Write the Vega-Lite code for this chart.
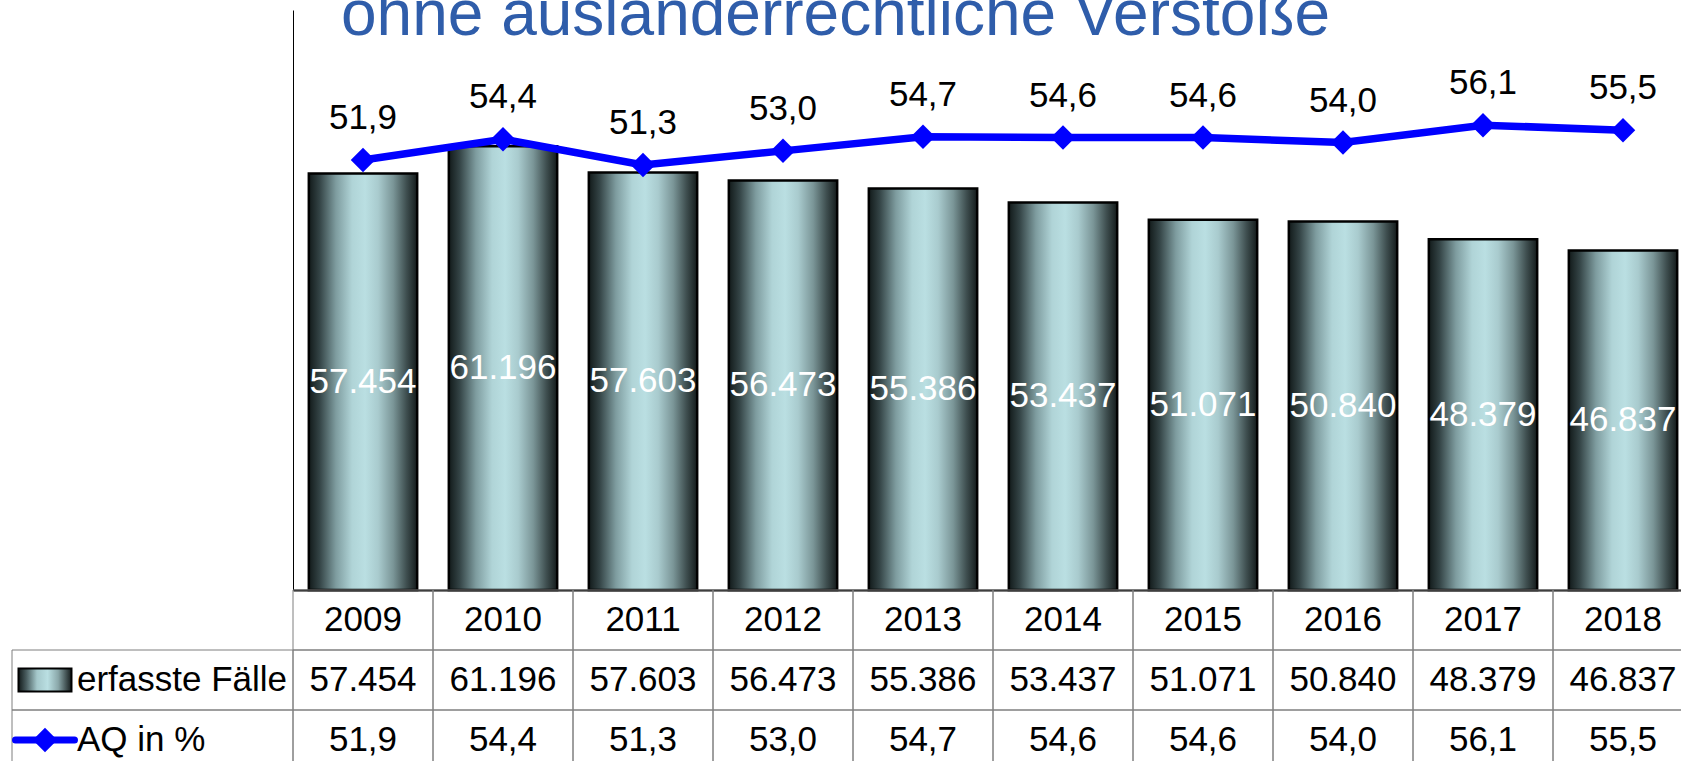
{
  "$schema": "https://vega.github.io/schema/vega-lite/v6.json",
  "padding": {"left": 1, "top": -16, "right": -12, "bottom": -9},
  "config": {
    "view": {"stroke": null},
    "font": "Liberation Sans",
    "locale": {"number": {"decimal": ",", "thousands": ".", "grouping": [3], "currency": ["", " €"]}}
  },
  "datasets": {
    "jahre": [
      {"year": "2009", "cases": 57454, "aq": 51.9},
      {"year": "2010", "cases": 61196, "aq": 54.4},
      {"year": "2011", "cases": 57603, "aq": 51.3},
      {"year": "2012", "cases": 56473, "aq": 53.0},
      {"year": "2013", "cases": 55386, "aq": 54.7},
      {"year": "2014", "cases": 53437, "aq": 54.6},
      {"year": "2015", "cases": 51071, "aq": 54.6},
      {"year": "2016", "cases": 50840, "aq": 54.0},
      {"year": "2017", "cases": 48379, "aq": 56.1},
      {"year": "2018", "cases": 46837, "aq": 55.5}
    ],
    "zeilen": [
      {"row": "erfasste Fälle"},
      {"row": "AQ in %"}
    ]
  },
  "columns": 2,
  "spacing": 0,
  "bounds": "flush",
  "concat": [
    {
      "width": 281,
      "height": 580,
      "data": {"values": []},
      "mark": "point",
      "encoding": {}
    },
    {
      "width": 1400,
      "height": 580,
      "data": {"name": "jahre"},
      "title": {
        "text": "ohne ausländerrechtliche Verstöße",
        "font": "Liberation Sans",
        "fontSize": 64,
        "fontWeight": "normal",
        "color": "#2F5DAA",
        "anchor": "start",
        "frame": "group",
        "dx": 48,
        "dy": 67,
        "baseline": "alphabetic",
        "offset": -22
      },
      "encoding": {
        "x": {
          "field": "year", "type": "nominal", "sort": null,
          "scale": {"paddingInner": 0.226, "paddingOuter": 0.113},
          "axis": {"title": null, "labels": false, "ticks": false, "grid": false, "domainColor": "#000000", "domainWidth": 2}
        }
      },
      "layer": [
        {
          "mark": {
            "type": "bar",
            "fill": {
              "gradient": "linear", "x1": 0, "y1": 0, "x2": 1, "y2": 0,
              "stops": [
                {"offset": 0, "color": "#121a1a"},
                {"offset": 0.1, "color": "#344446"},
                {"offset": 0.25, "color": "#7e9c9f"},
                {"offset": 0.4, "color": "#b0d4d7"},
                {"offset": 0.52, "color": "#badfe2"},
                {"offset": 0.64, "color": "#a9cbce"},
                {"offset": 0.78, "color": "#7a9597"},
                {"offset": 0.9, "color": "#3f4f50"},
                {"offset": 1, "color": "#141b1b"}
              ]
            },
            "stroke": "#000000",
            "strokeWidth": 2.5
          },
          "encoding": {
            "y": {
              "field": "cases", "type": "quantitative",
              "scale": {"domain": [0, 80000], "nice": false},
              "axis": {"title": null, "labels": false, "ticks": false, "grid": false, "domainColor": "#000000", "domainWidth": 1}
            }
          }
        },
        {
          "mark": {"type": "text", "color": "#ffffff", "fontSize": 35, "baseline": "middle"},
          "encoding": {
            "y": {"field": "cases", "type": "quantitative", "scale": {"domain": [0, 160000], "nice": false}, "axis": null},
            "text": {"field": "cases", "type": "quantitative", "format": ",d"}
          }
        },
        {
          "mark": {"type": "line", "color": "#0000ff", "strokeWidth": 7.5},
          "encoding": {
            "y": {"field": "aq", "type": "quantitative", "scale": {"domain": [0, 70], "nice": false}, "axis": null}
          }
        },
        {
          "mark": {"type": "point", "shape": "diamond", "filled": true, "color": "#0000ff", "size": 600, "opacity": 1},
          "encoding": {
            "y": {"field": "aq", "type": "quantitative", "scale": {"domain": [0, 70], "nice": false}, "axis": null}
          }
        },
        {
          "mark": {"type": "text", "color": "#000000", "fontSize": 35, "baseline": "alphabetic", "dy": -31},
          "encoding": {
            "y": {"field": "aq", "type": "quantitative", "scale": {"domain": [0, 70], "nice": false}, "axis": null},
            "text": {"field": "aq", "type": "quantitative", "format": ".1f"}
          }
        }
      ],
      "resolve": {"scale": {"y": "independent"}}
    },
    {
      "width": 281,
      "height": 180,
      "data": {"name": "zeilen"},
      "encoding": {
        "y": {
          "field": "row", "type": "nominal", "sort": null,
          "scale": {"domain": ["Jahr", "erfasste Fälle", "AQ in %"], "paddingInner": 0, "paddingOuter": 0},
          "axis": null
        }
      },
      "layer": [
        {
          "mark": {"type": "rect", "fill": "transparent", "stroke": "#7f7f7f", "strokeWidth": 1}
        },
        {
          "mark": {"type": "text", "align": "left", "dx": 32, "fontSize": 35, "baseline": "middle", "color": "#000000"},
          "encoding": {
            "x": {"datum": "Symbol", "type": "nominal", "scale": {"type": "point", "domain": ["Symbol"], "align": 0.1174}, "axis": null},
            "text": {"field": "row", "type": "nominal"}
          }
        },
        {
          "transform": [{"filter": "datum.row === 'erfasste Fälle'"}],
          "mark": {
            "type": "point", "shape": "M-1,-0.434H1V0.434H-1Z", "size": 2809, "filled": true, "opacity": 1,
            "fill": {
              "gradient": "linear", "x1": 0, "y1": 0, "x2": 1, "y2": 0,
              "stops": [
                {"offset": 0, "color": "#121a1a"},
                {"offset": 0.15, "color": "#4a5e60"},
                {"offset": 0.35, "color": "#a5c8cb"},
                {"offset": 0.55, "color": "#badfe2"},
                {"offset": 0.75, "color": "#8aa7a9"},
                {"offset": 1, "color": "#141b1b"}
              ]
            },
            "stroke": "#000000", "strokeWidth": 2
          },
          "encoding": {
            "x": {"datum": "Symbol", "type": "nominal", "scale": {"type": "point", "domain": ["Symbol"], "align": 0.1174}, "axis": null}
          }
        },
        {
          "transform": [{"filter": "datum.row === 'AQ in %'"}],
          "mark": {"type": "point", "shape": "M-1,0H1", "size": 3481, "filled": false, "stroke": "#0000ff", "strokeWidth": 7, "strokeCap": "round", "opacity": 1},
          "encoding": {
            "x": {"datum": "Symbol", "type": "nominal", "scale": {"type": "point", "domain": ["Symbol"], "align": 0.1174}, "axis": null}
          }
        },
        {
          "transform": [{"filter": "datum.row === 'AQ in %'"}],
          "mark": {"type": "point", "shape": "diamond", "size": 600, "filled": true, "color": "#0000ff", "opacity": 1},
          "encoding": {
            "x": {"datum": "Symbol", "type": "nominal", "scale": {"type": "point", "domain": ["Symbol"], "align": 0.1174}, "axis": null}
          }
        }
      ]
    },
    {
      "width": 1400,
      "height": 180,
      "data": {"name": "jahre"},
      "encoding": {
        "x": {"field": "year", "type": "nominal", "sort": null, "scale": {"paddingInner": 0, "paddingOuter": 0}, "axis": null}
      },
      "layer": [
        {
          "mark": {"type": "rect", "fill": "transparent", "stroke": "#7f7f7f", "strokeWidth": 1},
          "encoding": {"y": {"datum": "Jahr", "type": "nominal", "scale": {"domain": ["Jahr", "erfasste Fälle", "AQ in %"], "paddingInner": 0, "paddingOuter": 0}, "axis": null}}
        },
        {
          "mark": {"type": "rect", "fill": "transparent", "stroke": "#7f7f7f", "strokeWidth": 1},
          "encoding": {"y": {"datum": "erfasste Fälle", "type": "nominal"}}
        },
        {
          "mark": {"type": "rect", "fill": "transparent", "stroke": "#7f7f7f", "strokeWidth": 1},
          "encoding": {"y": {"datum": "AQ in %", "type": "nominal"}}
        },
        {
          "mark": {"type": "text", "fontSize": 35, "baseline": "middle", "color": "#000000"},
          "encoding": {"y": {"datum": "Jahr", "type": "nominal"}, "text": {"field": "year", "type": "nominal"}}
        },
        {
          "mark": {"type": "text", "fontSize": 35, "baseline": "middle", "color": "#000000"},
          "encoding": {"y": {"datum": "erfasste Fälle", "type": "nominal"}, "text": {"field": "cases", "type": "quantitative", "format": ",d"}}
        },
        {
          "mark": {"type": "text", "fontSize": 35, "baseline": "middle", "color": "#000000"},
          "encoding": {"y": {"datum": "AQ in %", "type": "nominal"}, "text": {"field": "aq", "type": "quantitative", "format": ".1f"}}
        }
      ]
    }
  ],
  "resolve": {"scale": {"x": "independent", "y": "independent"}}
}
